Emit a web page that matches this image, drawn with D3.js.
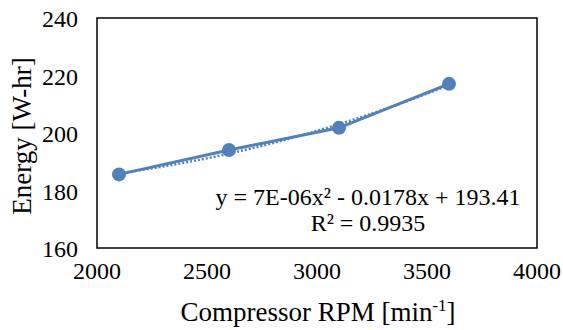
<!DOCTYPE html>
<html>
<head>
<meta charset="utf-8">
<script src="https://cdn.jsdelivr.net/npm/d3@7"></script>
<style>
body { margin: 0; background: #fff; }
text { font-family: "Liberation Serif", "Times New Roman", serif; fill: #000; }
</style>
</head>
<body>
<svg width="563" height="330"></svg>
<script>
// values
var rpm = [2100, 2600, 3100, 3600];
var energy = [185.6, 194.1, 201.8, 217.1];
var xTicks = [2000, 2500, 3000, 3500, 4000];
var yTicks = [160, 180, 200, 220, 240];
var eqText = "y = 7E-06x² - 0.0178x + 193.41";
var r2Text = "R² = 0.9935";

var color = "#4f81bd";
var svg = d3.select("svg");

var x = d3.scaleLinear().domain([2000, 4000]).range([97, 537]);
var y = d3.scaleLinear().domain([160, 240]).range([248, 18]);

// frame
svg.append("rect")
    .attr("x", 97).attr("y", 18)
    .attr("width", 440).attr("height", 230)
    .attr("fill", "none").attr("stroke", "#000").attr("stroke-width", 1.5);

// tick labels
svg.append("g").selectAll("text")
    .data(xTicks).enter().append("text")
    .attr("x", function(d){ return x(d); })
    .attr("y", 279)
    .attr("text-anchor", "middle")
    .style("font-size", "24px")
    .text(function(d){ return d; });

svg.append("g").selectAll("text")
    .data(yTicks).enter().append("text")
    .attr("x", 78)
    .attr("y", function(d){ return y(d) + 9; })
    .attr("text-anchor", "end")
    .style("font-size", "24px")
    .text(function(d){ return d; });

// axis titles
var xt = svg.append("text")
    .attr("x", 318).attr("y", 321)
    .attr("text-anchor", "middle")
    .style("font-size", "27px");
xt.append("tspan").text("Compressor RPM [min");
xt.append("tspan").attr("dy", -10).style("font-size", "17px").text("-1");
xt.append("tspan").attr("dy", 10).text("]");

svg.append("text")
    .attr("transform", "translate(31,136) rotate(-90)")
    .attr("text-anchor", "middle")
    .style("font-size", "27px")
    .text("Energy [W-hr]");

// quadratic least squares fit for the trendline
var pts = rpm.map(function(r, i){ return {x: r, y: energy[i]}; });
function fitQuad(p) {
    var s = [0,0,0,0,0], t = [0,0,0];
    p.forEach(function(d){
        for (var k = 0; k < 5; k++) s[k] += Math.pow(d.x, k);
        for (var k = 0; k < 3; k++) t[k] += d.y * Math.pow(d.x, k);
    });
    var A = [[s[0],s[1],s[2],t[0]],[s[1],s[2],s[3],t[1]],[s[2],s[3],s[4],t[2]]];
    for (var i = 0; i < 3; i++) {
        for (var j = i+1; j < 3; j++) {
            var f = A[j][i] / A[i][i];
            for (var k = i; k < 4; k++) A[j][k] -= f * A[i][k];
        }
    }
    var c = [0,0,0];
    for (var i = 2; i >= 0; i--) {
        var v = A[i][3];
        for (var k = i+1; k < 3; k++) v -= A[i][k] * c[k];
        c[i] = v / A[i][i];
    }
    return c;
}
var c = fitQuad(pts);
var trend = d3.range(rpm[0], rpm[rpm.length-1] + 1, 20).map(function(r){
    return {x: r, y: c[0] + c[1]*r + c[2]*r*r};
});

var line = d3.line()
    .x(function(d){ return x(d.x); })
    .y(function(d){ return y(d.y); });

svg.append("path")
    .datum(trend)
    .attr("d", line)
    .attr("fill", "none")
    .attr("stroke", color)
    .attr("stroke-width", 2.5)
    .attr("stroke-dasharray", "2,2");

svg.append("path")
    .datum(pts)
    .attr("d", line)
    .attr("fill", "none")
    .attr("stroke", color)
    .attr("stroke-width", 3);

svg.append("g").selectAll("circle")
    .data(pts).enter().append("circle")
    .attr("cx", function(d){ return x(d.x); })
    .attr("cy", function(d){ return y(d.y); })
    .attr("r", 7)
    .attr("fill", color);

// trendline equation
svg.append("text")
    .attr("x", 368).attr("y", 205)
    .attr("text-anchor", "middle")
    .style("font-size", "24px")
    .text(eqText);
svg.append("text")
    .attr("x", 368).attr("y", 231)
    .attr("text-anchor", "middle")
    .style("font-size", "24px")
    .text(r2Text);
</script>
</body>
</html>
